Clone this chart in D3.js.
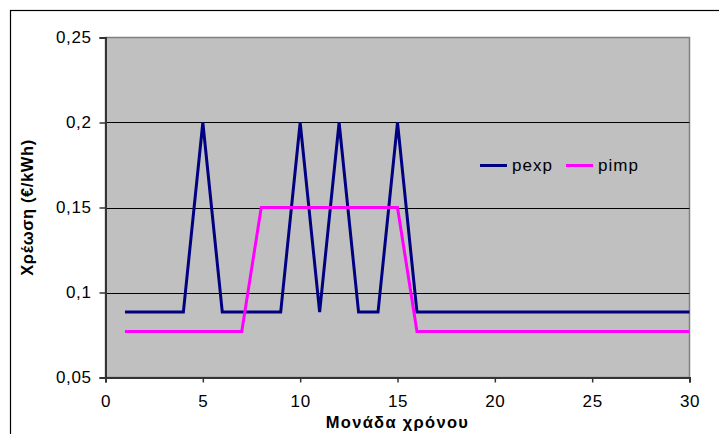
<!DOCTYPE html>
<html>
<head>
<meta charset="utf-8">
<script src="https://cdn.jsdelivr.net/npm/d3@7"></script>
<style>
  body { margin: 0; background: white; }
  svg { display: block; font-family: "Liberation Sans", Arial, sans-serif; }
</style>
</head>
<body>
<div id="container"></div>
<script>
let w = 719;
let h = 434;

// DATA
let timeUnits = d3.range(1, 31);
let pexp = [0.0885, 0.0885, 0.0885, 0.0885, 0.2, 0.0885, 0.0885, 0.0885, 0.0885, 0.2,
  0.0885, 0.2, 0.0885, 0.0885, 0.2, 0.0885, 0.0885, 0.0885, 0.0885, 0.0885,
  0.0885, 0.0885, 0.0885, 0.0885, 0.0885, 0.0885, 0.0885, 0.0885, 0.0885, 0.0885];
let pimp = [0.077, 0.077, 0.077, 0.077, 0.077, 0.077, 0.077, 0.15, 0.15, 0.15,
  0.15, 0.15, 0.15, 0.15, 0.15, 0.077, 0.077, 0.077, 0.077, 0.077,
  0.077, 0.077, 0.077, 0.077, 0.077, 0.077, 0.077, 0.077, 0.077, 0.077];
let seriesNames = ["pexp", "pimp"];
let seriesColors = ["#000080", "#FF00FF"];
let xTicks = [0, 5, 10, 15, 20, 25, 30];
let yTicks = [0.05, 0.1, 0.15, 0.2, 0.25];
let xTitle = "Μονάδα χρόνου";
let yTitle = "Χρέωση (€/kWh)";

let plot = { left: 105.5, top: 37.5, right: 689.5, bottom: 377.5 };

let viz = d3.select("#container").append("svg")
  .attr("width", w)
  .attr("height", h)

// outer chart border (runs off right/bottom edge)
viz.append("rect")
  .attr("x", 10.5).attr("y", 10.5)
  .attr("width", 760).attr("height", 500)
  .attr("fill", "white")
  .attr("stroke", "black")
  .attr("stroke-width", 1.2)

let x = d3.scaleLinear().domain([0, 30]).range([plot.left, plot.right]);
let y = d3.scaleLinear().domain([0.05, 0.25]).range([plot.bottom, plot.top]);

// plot area
viz.append("rect")
  .attr("x", plot.left).attr("y", plot.top)
  .attr("width", plot.right - plot.left).attr("height", plot.bottom - plot.top)
  .attr("fill", "#C0C0C0")
  .attr("stroke", "#808080")
  .attr("stroke-width", 1.5)

// gridlines
viz.selectAll(".grid").data(yTicks.filter(d => d > 0.05 && d < 0.25)).enter()
  .append("line")
  .attr("class", "grid")
  .attr("x1", plot.left).attr("x2", plot.right)
  .attr("y1", d => Math.round(y(d)) + 0.5).attr("y2", d => Math.round(y(d)) + 0.5)
  .attr("stroke", "black")
  .attr("stroke-width", 1)

// axes
let fmt = d => String(d).replace(".", ",");
let yAxis = d3.axisLeft(y).tickValues(yTicks).tickFormat(d => d3.format(".2~f")(d).replace(".", ",")).tickSize(6).tickPadding(8);
let xAxis = d3.axisBottom(x).tickValues(xTicks).tickFormat(fmt).tickSize(5).tickPadding(12);

let gy = viz.append("g").attr("transform", `translate(${plot.left},0)`).call(yAxis);
let gx = viz.append("g").attr("transform", `translate(0,${plot.bottom})`).call(xAxis);
[gx, gy].forEach(g => {
  g.select(".domain").attr("stroke", "#333").attr("stroke-width", 2);
  g.selectAll(".tick line").attr("stroke", "#333").attr("stroke-width", 1.5);
  g.selectAll("text").attr("fill", "black").style("font-size", "17px")
    .style("letter-spacing", "0.6px")
    .style("font-family", "'Liberation Sans', Arial, sans-serif");
})

// lines
let lineMaker = d3.line().x((d, i) => x(timeUnits[i])).y(d => y(d));
[pexp, pimp].forEach((s, i) => {
  viz.append("path")
    .datum(s)
    .attr("d", lineMaker)
    .attr("fill", "none")
    .attr("stroke", seriesColors[i])
    .attr("stroke-width", 3)
    .attr("stroke-linejoin", "miter")
})

// legend
let legendX = [480, 566];
seriesNames.forEach((name, i) => {
  viz.append("line")
    .attr("x1", legendX[i]).attr("x2", legendX[i] + 27)
    .attr("y1", 165.5).attr("y2", 165.5)
    .attr("stroke", seriesColors[i])
    .attr("stroke-width", 3)
  viz.append("text")
    .attr("x", legendX[i] + 32).attr("y", 171)
    .text(name)
    .style("font-size", "17px")
    .style("letter-spacing", "1px")
    .attr("fill", "black")
})

// titles
viz.append("text")
  .attr("x", (plot.left + plot.right) / 2).attr("y", 428)
  .attr("text-anchor", "middle")
  .style("font-size", "16.5px").style("font-weight", "bold")
  .style("letter-spacing", "1.3px")
  .text(xTitle)

viz.append("text")
  .attr("transform", `translate(33,${(plot.top + plot.bottom) / 2}) rotate(-90)`)
  .attr("text-anchor", "middle")
  .style("font-size", "16.5px").style("font-weight", "bold")
  .style("letter-spacing", "0.6px")
  .text(yTitle)
</script>
</body>
</html>
